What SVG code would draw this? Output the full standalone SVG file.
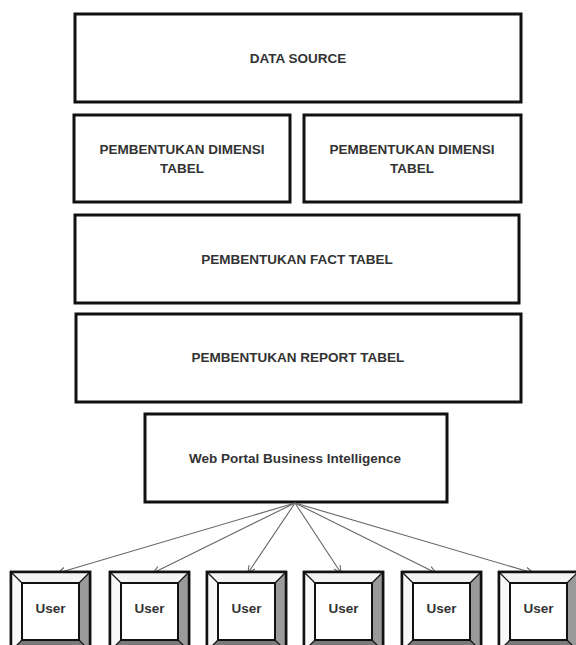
<svg xmlns="http://www.w3.org/2000/svg" xmlns:xlink="http://www.w3.org/1999/xlink" width="576" height="645" viewBox="0 0 576 645">
<style>
.box{fill:#fff;stroke:#111;stroke-width:3}
.lbl{font-family:"Liberation Sans",Arial,sans-serif;font-weight:bold;font-size:13.5px;fill:#333;text-anchor:middle}
.conn{stroke:#666;stroke-width:1.1;fill:none;marker-end:url(#arr)}
.bv-o{fill:#fff;stroke:#111;stroke-width:2.5}
.bv-i{fill:#fff;stroke:#111;stroke-width:2}
.bv-l{stroke:#111;stroke-width:1.2}
</style>
<defs>
<marker id="arr" viewBox="0 0 10 10" refX="9" refY="5" markerWidth="9" markerHeight="9" orient="auto" markerUnits="userSpaceOnUse">
<path d="M1,1 L9,5 L1,9" fill="none" stroke="#666" stroke-width="1.2"/>
</marker>
<g id="bevel">
<rect class="bv-o" x="0" y="0" width="79" height="79"/>
<polygon points="0,0 79,0 68,11 11,11" fill="#f4f4f4"/>
<polygon points="0,0 11,11 11,68 0,79" fill="#f8f8f8"/>
<polygon points="79,0 79,79 68,68 68,11" fill="#9a9a9a"/>
<polygon points="0,79 79,79 68,68 11,68" fill="#7a7a7a"/>
<rect x="0" y="0" width="79" height="79" fill="none" stroke="#111" stroke-width="2.5"/>
<line class="bv-l" x1="0" y1="0" x2="11" y2="11"/>
<line class="bv-l" x1="79" y1="0" x2="68" y2="11"/>
<line class="bv-l" x1="0" y1="79" x2="11" y2="68"/>
<line class="bv-l" x1="79" y1="79" x2="68" y2="68"/>
<rect class="bv-i" x="11" y="11" width="57" height="57"/>
</g>
</defs>
<rect width="576" height="645" fill="#fff"/>

<g id="data-source">
<rect class="box" x="75" y="14" width="446" height="88"/>
<text class="lbl" x="298" y="63">DATA SOURCE</text>
</g>
<g id="dimensi-1">
<rect class="box" x="74" y="115" width="216" height="87"/>
<text class="lbl" x="182" y="154">PEMBENTUKAN DIMENSI</text>
<text class="lbl" x="182" y="173">TABEL</text>
</g>
<g id="dimensi-2">
<rect class="box" x="304" y="115" width="217" height="87"/>
<text class="lbl" x="412" y="154">PEMBENTUKAN DIMENSI</text>
<text class="lbl" x="412" y="173">TABEL</text>
</g>
<g id="fact">
<rect class="box" x="75" y="215" width="444" height="88"/>
<text class="lbl" x="297" y="264">PEMBENTUKAN FACT TABEL</text>
</g>
<g id="report">
<rect class="box" x="76" y="314" width="445" height="88"/>
<text class="lbl" x="298" y="362">PEMBENTUKAN REPORT TABEL</text>
</g>
<g id="web-portal">
<rect class="box" x="145" y="414" width="302" height="88"/>
<text class="lbl" x="295" y="463">Web Portal Business Intelligence</text>
</g>

<g id="connectors">
<line class="conn" x1="295" y1="503" x2="58" y2="573"/>
<line class="conn" x1="295" y1="503" x2="153" y2="573"/>
<line class="conn" x1="295" y1="503" x2="248" y2="573"/>
<line class="conn" x1="295" y1="503" x2="341" y2="573"/>
<line class="conn" x1="295" y1="503" x2="436" y2="573"/>
<line class="conn" x1="295" y1="503" x2="533" y2="573"/>
</g>

<g id="user-1"><use xlink:href="#bevel" href="#bevel" x="11" y="572"/><text class="lbl" x="50.5" y="613">User</text></g>
<g id="user-2"><use xlink:href="#bevel" href="#bevel" x="110" y="572"/><text class="lbl" x="149.5" y="613">User</text></g>
<g id="user-3"><use xlink:href="#bevel" href="#bevel" x="207" y="572"/><text class="lbl" x="246.5" y="613">User</text></g>
<g id="user-4"><use xlink:href="#bevel" href="#bevel" x="304" y="572"/><text class="lbl" x="343.5" y="613">User</text></g>
<g id="user-5"><use xlink:href="#bevel" href="#bevel" x="402" y="572"/><text class="lbl" x="441.5" y="613">User</text></g>
<g id="user-6"><use xlink:href="#bevel" href="#bevel" x="499" y="572"/><text class="lbl" x="538.5" y="613">User</text></g>
</svg>
